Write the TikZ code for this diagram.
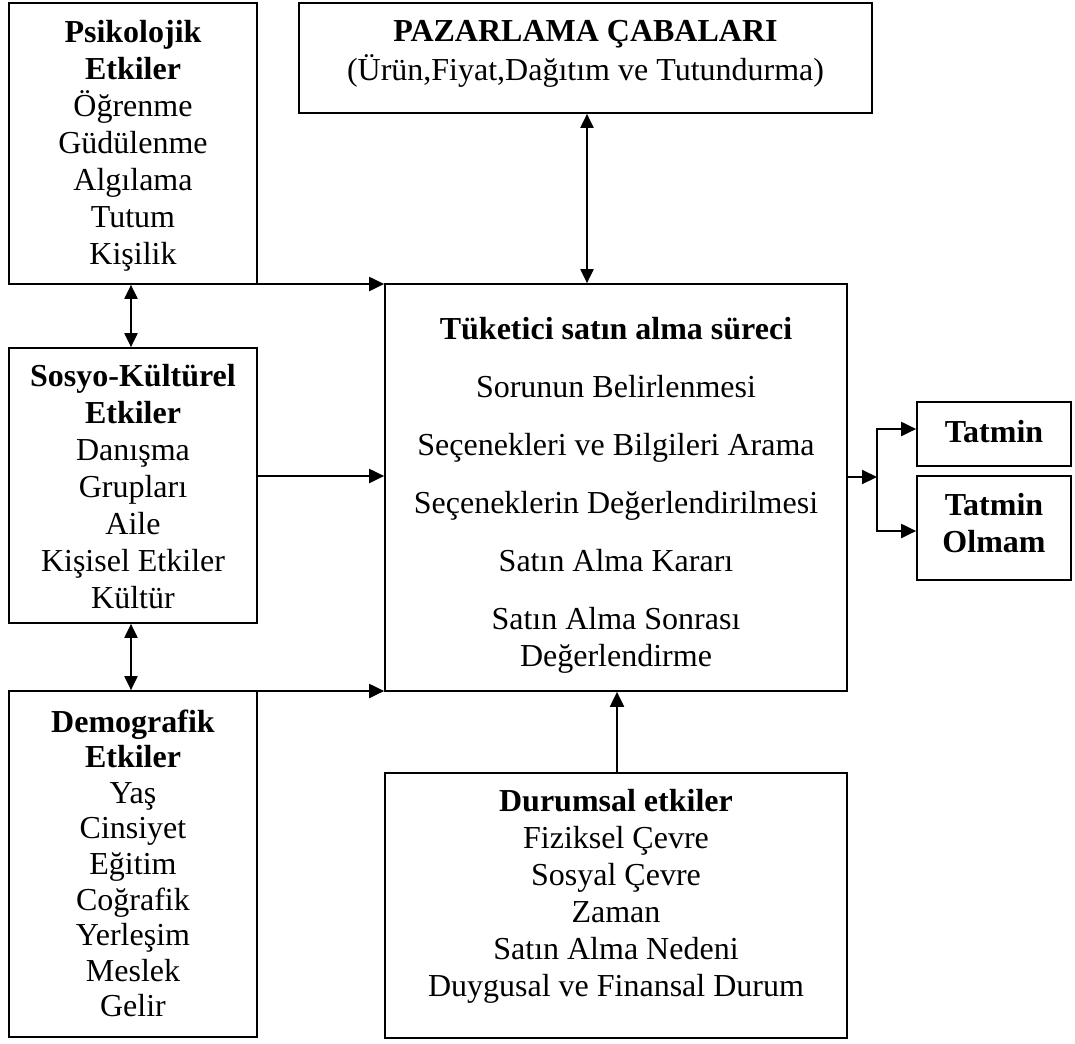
\documentclass[tikz,border=0pt]{standalone}
\usepackage{fontspec}
\setmainfont{Liberation Serif}
\usetikzlibrary{arrows.meta}

\begin{document}
\begin{tikzpicture}[x=1pt,y=-1pt,
  box/.style={draw, line width=1.7pt, inner sep=0pt},
  txt/.style={align=center, inner sep=0pt,
    font=\fontsize{32}{37}\selectfont,
    execute at begin node=\strut, execute at end node=\strut},
  link/.style={line width=2pt, -{Triangle[length=15pt,width=14pt]}},
  both/.style={line width=2pt,
    {Triangle[length=14pt,width=13pt]}-{Triangle[length=14pt,width=13pt]}},
]
\useasboundingbox (0,0) rectangle (1075,1043);

% boxes
\node[box, minimum width=248pt, minimum height=281pt] (psi) at (133,143.5) {};
\node[box, minimum width=573pt, minimum height=110pt] (paz) at (585.5,58) {};
\node[box, minimum width=462pt, minimum height=407pt] (main) at (616,487.5) {};
\node[box, minimum width=248pt, minimum height=275pt] (sos) at (133,485.5) {};
\node[box, minimum width=248pt, minimum height=346pt] (dem) at (133,864) {};
\node[box, minimum width=462pt, minimum height=265pt] (dur) at (616,905.5) {};
\node[box, minimum width=154pt, minimum height=64pt] (tat) at (994,434) {};
\node[box, minimum width=154pt, minimum height=104pt] (olm) at (994,528) {};

% texts
\node[txt] (psiT) at (133,148)
  {\textbf{Psikolojik}\\\textbf{Etkiler}\\Öğrenme\\Güdülenme\\Algılama\\Tutum\\Kişilik};
\node[txt] (pazT) at (585.5,56)
  {\textbf{PAZARLAMA ÇABALARI}\\[2pt](Ürün,Fiyat,Dağıtım ve Tutundurma)};
\node[txt] (mainT) at (616,497.5)
  {\textbf{Tüketici satın alma süreci}\\[21pt]Sorunun Belirlenmesi\\[21pt]Seçenekleri ve Bilgileri Arama\\[21pt]Seçeneklerin Değerlendirilmesi\\[21pt]Satın Alma Kararı\\[21pt]Satın Alma Sonrası\\Değerlendirme};
\node[txt] (sosT) at (133,492)
  {\textbf{Sosyo-Kültürel}\\\textbf{Etkiler}\\Danışma\\Grupları\\Aile\\Kişisel Etkiler\\Kültür};
\node[txt, font=\fontsize{32}{35.6}\selectfont] (demT) at (133,868.5)
  {\textbf{Demografik}\\\textbf{Etkiler}\\Yaş\\Cinsiyet\\Eğitim\\Coğrafik\\Yerleşim\\Meslek\\Gelir};
\node[txt] (durT) at (616,898)
  {\textbf{Durumsal etkiler}\\Fiziksel Çevre\\Sosyal Çevre\\Zaman\\Satın Alma Nedeni\\Duygusal ve Finansal Durum};
\node[txt] (tatT) at (994,435) {\textbf{Tatmin}};
\node[txt] (olmT) at (994,528) {\textbf{Tatmin}\\\textbf{Olmam}};

% connectors
\coordinate (pm) at (587,0);
\draw[both] (paz.south -| pm) -- (main.north -| pm);
\coordinate (ty) at (0,284);
\draw[link] (psi.east |- ty) -- (main.west |- ty);
\coordinate (sy) at (0,476);
\draw[link] (sos.east |- sy) -- (main.west |- sy);
\coordinate (by) at (0,691);
\draw[link] (dem.east |- by) -- (main.west |- by);
\coordinate (lx) at (131,0);
\draw[both] (psi.south -| lx) -- (sos.north -| lx);
\draw[both] (sos.south -| lx) -- (dem.north -| lx);
\coordinate (dx) at (617,0);
\draw[link] (dur.north -| dx) -- (main.south -| dx);
\coordinate (br) at (877,477);
\coordinate (b1) at (0,429);
\coordinate (b2) at (0,531);
\draw[link] (main.east |- br) -- (br);
\draw[link] (br) |- (tat.west |- b1);
\draw[link] (br) |- (olm.west |- b2);
\end{tikzpicture}
\end{document}
